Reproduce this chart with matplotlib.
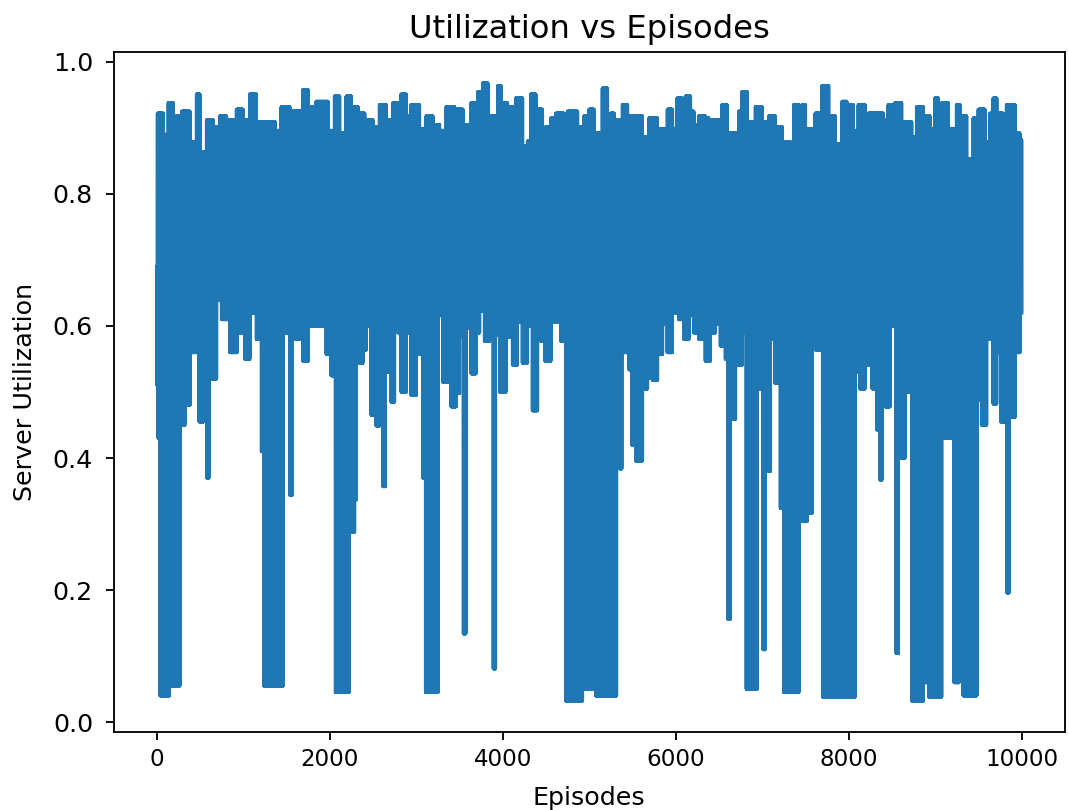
import numpy as np
import matplotlib
matplotlib.use("Agg")
import matplotlib.pyplot as plt

# values: step envelopes of the noisy utilization trace
# upper envelope: episode where a level starts, level
upper_ep = [0, 5, 73, 131, 189, 285, 381, 458, 496, 573, 650, 727, 804, 919, 996,
            1073, 1150, 1365, 1438, 1535, 1688, 1746, 1842, 1919, 1977, 2054, 2112,
            2189, 2247, 2324, 2401, 2497, 2574, 2651, 2728, 2824, 2882, 2940, 3036,
            3113, 3190, 3267, 3345, 3441, 3537, 3634, 3711, 3769, 3826, 3942, 3977,
            4054, 4150, 4227, 4285, 4323, 4381, 4458, 4497, 4555, 4612, 4709, 4747,
            4863, 4940, 4998, 5056, 5152, 5210, 5248, 5287, 5383, 5441, 5614, 5691,
            5788, 5903, 5961, 6016, 6073, 6112, 6169, 6208, 6266, 6343, 6381, 6535,
            6593, 6728, 6767, 6825, 6921, 6998, 7075, 7152, 7229, 7325, 7364, 7422,
            7460, 7499, 7614, 7691, 7768, 7846, 7923, 7977, 8054, 8112, 8189, 8227,
            8401, 8458, 8535, 8612, 8728, 8786, 8863, 8940, 8998, 9036, 9075, 9152,
            9248, 9287, 9364, 9441, 9499, 9576, 9634, 9672, 9711, 9788, 9826, 9923,
            9980]
upper_val = [0.69, 0.922, 0.89, 0.938, 0.918, 0.925, 0.879, 0.951, 0.863, 0.912, 0.902,
             0.918, 0.912, 0.928, 0.912, 0.951, 0.909, 0.896, 0.932, 0.925, 0.958, 0.932,
             0.94, 0.94, 0.896, 0.948, 0.892, 0.948, 0.932, 0.922, 0.912, 0.902, 0.935,
             0.912, 0.938, 0.951, 0.918, 0.935, 0.899, 0.918, 0.905, 0.896, 0.932, 0.928,
             0.905, 0.938, 0.955, 0.968, 0.918, 0.964, 0.938, 0.932, 0.945, 0.873, 0.88,
             0.951, 0.928, 0.875, 0.902, 0.915, 0.922, 0.886, 0.925, 0.902, 0.918, 0.928,
             0.892, 0.96, 0.905, 0.922, 0.912, 0.935, 0.918, 0.886, 0.915, 0.899, 0.928,
             0.899, 0.945, 0.892, 0.948, 0.925, 0.905, 0.918, 0.915, 0.912, 0.935, 0.892,
             0.925, 0.955, 0.909, 0.932, 0.909, 0.918, 0.902, 0.879, 0.869, 0.935, 0.899,
             0.935, 0.899, 0.922, 0.964, 0.918, 0.876, 0.94, 0.935, 0.896, 0.935, 0.909,
             0.922, 0.912, 0.935, 0.938, 0.909, 0.886, 0.932, 0.918, 0.899, 0.945, 0.935,
             0.938, 0.899, 0.935, 0.918, 0.853, 0.915, 0.928, 0.879, 0.922, 0.945, 0.922,
             0.918, 0.935, 0.892, 0.882]

# lower envelope: episode where a level starts, level
lower_ep = [0, 15, 35, 142, 158, 265, 323, 381, 488, 535, 575, 600, 688, 746, 842, 927,
            1015, 1073, 1150, 1208, 1235, 1458, 1535, 1565, 1688, 1746, 1958, 2015, 2065,
            2220, 2285, 2304, 2381, 2420, 2478, 2535, 2574, 2613, 2640, 2709, 2747, 2786,
            2824, 2882, 2940, 2998, 3036, 3075, 3106, 3248, 3306, 3364, 3402, 3460, 3499,
            3545, 3570, 3634, 3691, 3730, 3788, 3846, 3890, 3915, 3965, 4035, 4112, 4169,
            4227, 4285, 4343, 4401, 4439, 4489, 4555, 4670, 4728, 4921, 5075, 5314, 5352,
            5375, 5460, 5491, 5537, 5614, 5672, 5730, 5788, 5846, 5903, 5961, 6035, 6092,
            6150, 6208, 6266, 6343, 6401, 6458, 6516, 6574, 6605, 6630, 6690, 6767, 6817,
            6940, 6979, 7010, 7035, 7094, 7144, 7210, 7248, 7422, 7460, 7518, 7576, 7614,
            7672, 7699, 8073, 8131, 8189, 8247, 8273, 8324, 8362, 8385, 8420, 8478, 8550,
            8575, 8651, 8709, 8728, 8863, 8902, 8925, 9075, 9113, 9190, 9221, 9275, 9325,
            9480, 9537, 9595, 9672, 9711, 9761, 9830, 9855, 9923, 9980]
lower_val = [0.51, 0.43, 0.04, 0.50, 0.055, 0.45, 0.48, 0.56, 0.455, 0.52, 0.37, 0.52,
             0.64, 0.61, 0.56, 0.59, 0.55, 0.62, 0.58, 0.41, 0.055, 0.59, 0.344, 0.58,
             0.547, 0.60, 0.557, 0.525, 0.045, 0.288, 0.337, 0.544, 0.564, 0.60, 0.465,
             0.449, 0.577, 0.357, 0.531, 0.485, 0.61, 0.59, 0.50, 0.59, 0.495, 0.61, 0.557,
             0.37, 0.045, 0.616, 0.515, 0.55, 0.478, 0.498, 0.583, 0.134, 0.597, 0.528,
             0.59, 0.623, 0.577, 0.597, 0.081, 0.587, 0.50, 0.583, 0.541, 0.606, 0.544,
             0.60, 0.472, 0.623, 0.577, 0.547, 0.606, 0.577, 0.032, 0.05, 0.04, 0.603,
             0.384, 0.56, 0.534, 0.42, 0.396, 0.505, 0.521, 0.518, 0.557, 0.603, 0.56,
             0.62, 0.61, 0.58, 0.616, 0.59, 0.58, 0.547, 0.59, 0.603, 0.57, 0.55, 0.156,
             0.459, 0.541, 0.59, 0.05, 0.505, 0.61, 0.11, 0.38, 0.58, 0.514, 0.324, 0.045,
             0.60, 0.304, 0.317, 0.59, 0.564, 0.62, 0.038, 0.531, 0.505, 0.541, 0.60,
             0.505, 0.443, 0.367, 0.55, 0.478, 0.60, 0.104, 0.40, 0.50, 0.58, 0.032, 0.06,
             0.485, 0.038, 0.446, 0.43, 0.60, 0.06, 0.55, 0.04, 0.488, 0.45, 0.58, 0.482,
             0.56, 0.455, 0.196, 0.462, 0.56, 0.62]

n_episodes = 10000

# rebuild the trace: consecutive episodes swing between the two envelopes
episodes = np.arange(n_episodes)
hi = np.array(upper_val)[np.searchsorted(upper_ep, episodes, side='right') - 1]
lo = np.array(lower_val)[np.searchsorted(lower_ep, episodes, side='right') - 1]
utilization = np.where(episodes % 2 == 0, hi, lo)

dpi = 166
fig = plt.figure(figsize=(1069 / dpi, 810 / dpi), dpi=dpi)
ax = fig.add_axes([113.8 / 1069, 1 - 731.8 / 810, 951 / 1069, 679.6 / 810])

ax.plot(episodes, utilization)

ax.set_title('Utilization vs Episodes', fontsize=14)
ax.set_xlabel('Episodes', fontsize=11, labelpad=6.5)
ax.set_ylabel('Server Utilization', fontsize=11, labelpad=7)
ax.tick_params(axis='y', labelsize=11, pad=5.5)

fig.savefig('out.png', dpi=dpi)
